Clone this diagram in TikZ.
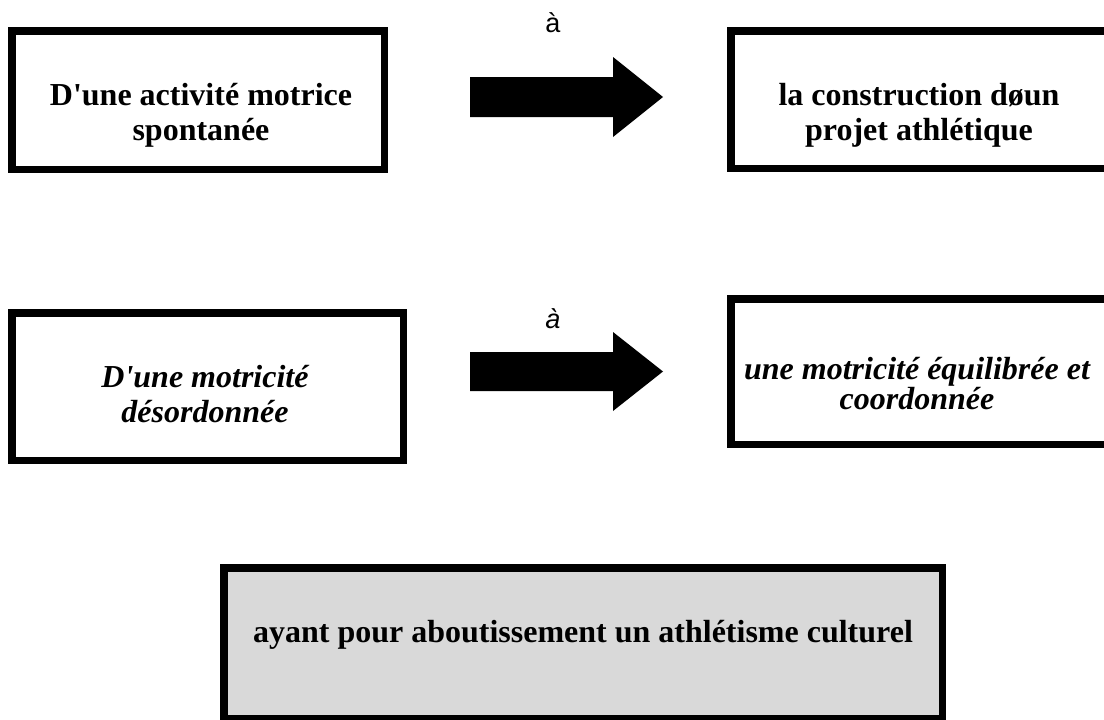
\documentclass[tikz,border=0pt]{standalone}
\usepackage{fontspec}
\setmainfont{Liberation Serif}
\newfontfamily\arialfont{Liberation Sans}
\definecolor{boxgray}{HTML}{D9D9D9}
\begin{document}
\begin{tikzpicture}[x=1pt,y=-1pt,
  frame/.style={draw=black, line width=7.5pt, inner sep=0pt, rectangle},
  boldtxt/.style={font=\fontsize{32}{35}\selectfont\bfseries, align=center, inner sep=0pt},
  itxt/.style={font=\fontsize{32}{35}\selectfont\bfseries\itshape, align=center, inner sep=0pt},
  atxt/.style={font=\arialfont\fontsize{27}{30}\selectfont, inner sep=0pt, anchor=base},
  bigarrow/.style={fill=black}
]
\useasboundingbox (0,0) rectangle (1104,720);
\clip (0,0) rectangle (1104,720);

% row 1
\node[frame, minimum width=372.5pt, minimum height=138.5pt] (b1) at (198,100) {};
\node[boldtxt] (t1) at (201,115.5) {D\textquotesingle une activité motrice\\spontanée};
\node[frame, minimum width=376.5pt, minimum height=137.5pt] (b2) at (919,99.5) {};
\node[boldtxt] (t2) at (919,115.5) {la construction døun\\projet athlétique};
\fill[bigarrow] (470,77) -- (613,77) -- (613,57) -- (663,97) -- (613,137) -- (613,117) -- (470,117) -- cycle;
\node[atxt] (a1) at (553,32) {à};

% row 2
\node[frame, minimum width=391.5pt, minimum height=147.5pt] (b3) at (207.5,386.5) {};
\node[itxt] (t3) at (205,394) {D\textquotesingle une motricité\\désordonnée};
\node[frame, minimum width=376.5pt, minimum height=145.5pt] (b4) at (919,371.5) {};
\node[itxt, font=\fontsize{32}{29}\selectfont\bfseries\itshape] (t4) at (917,384) {une motricité équilibrée et\\coordonnée};
\fill[bigarrow] (470,352) -- (613,352) -- (613,332) -- (663,371.5) -- (613,411) -- (613,391) -- (470,391) -- cycle;
\node[atxt, font=\arialfont\itshape\fontsize{27}{30}\selectfont] (a2) at (553,328) {à};

% bottom
\node[frame, fill=boxgray, minimum width=718.5pt, minimum height=150.5pt] (b5) at (583,643) {};
\node[boldtxt, anchor=base] (t5) at (583,642) {ayant pour aboutissement un athlétisme culturel};
\end{tikzpicture}
\end{document}
